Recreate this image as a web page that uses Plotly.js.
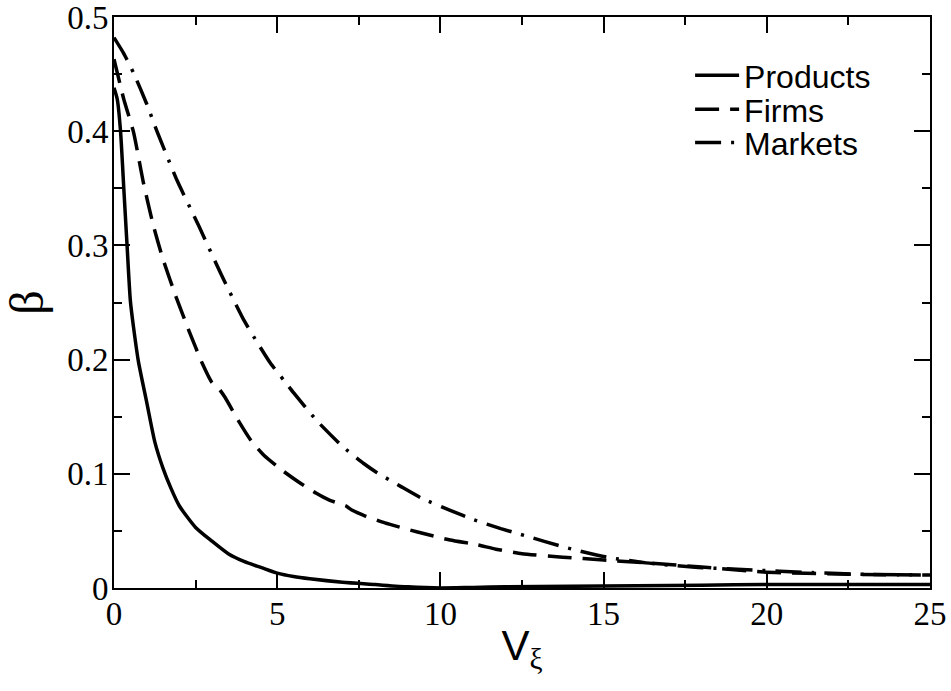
<!DOCTYPE html>
<html>
<head>
<meta charset="utf-8">
<script src="https://cdn.plot.ly/plotly-3.0.1.min.js"></script>
<style>html,body{margin:0;padding:0;background:#fff;}#chart{width:951px;height:691px;}</style>
</head>
<body>
<div id="chart"></div>
<script>
// Products (solid)
var productsX = [0,0.1,0.2,0.3,0.4,0.5,0.6,0.75,1,1.25,1.5,1.75,2,2.5,3,3.5,4,4.5,5,5.5,6,7,8,9,10,11,12,14,16,18,20,22,25];
var productsY = [0.438,0.428,0.400,0.350,0.300,0.252,0.228,0.198,0.163,0.128,0.105,0.087,0.072,0.053,0.041,0.030,0.023,0.018,0.013,0.010,0.008,0.005,0.003,0.001,0.0,0.0005,0.001,0.0015,0.002,0.0025,0.003,0.003,0.003];
// Firms (dashed)
var firmsX = [0,0.3,0.6,0.9,1.2,1.5,1.9,2.3,2.7,3.0,3.2,3.4,3.8,4.2,4.6,5.2,5.7,6.2,6.6,6.9,7.1,7.3,7.7,8.3,9.3,10.3,11.1,11.7,12.5,13.75,15,16.3,17.9,19.9,22.5,25];
var firmsY = [0.463,0.428,0.399,0.355,0.318,0.288,0.255,0.225,0.197,0.180,0.175,0.167,0.147,0.129,0.116,0.102,0.092,0.083,0.077,0.074,0.072,0.068,0.063,0.057,0.049,0.042,0.038,0.034,0.030,0.027,0.0245,0.022,0.0186,0.014,0.012,0.0114];
// Markets (dash-dot)
var marketsX = [0,0.3,0.6,1.0,1.33,1.93,2.6,3.26,3.97,4.39,4.79,5.2,5.5,6.23,7.0,7.65,8.06,8.78,9.4,10.3,11.0,11.85,12.45,13.9,15.1,16.3,17.9,19.4,21.4,23,25];
var marketsY = [0.482,0.468,0.451,0.424,0.399,0.357,0.317,0.276,0.235,0.215,0.197,0.182,0.171,0.146,0.124,0.109,0.101,0.089,0.079,0.068,0.060,0.052,0.047,0.035,0.027,0.022,0.018,0.016,0.0135,0.012,0.0114];

var seriesNames = ['Products','Firms','Markets'];
var xTickVals = [0,5,10,15,20,25];
var xMinorVals = [2.5,7.5,12.5,17.5,22.5];
var yTickVals = [0,0.1,0.2,0.3,0.4,0.5];
var yTickText = ['0','0.1','0.2','0.3','0.4','0.5'];
var yMinorVals = [0.05,0.15,0.25,0.35,0.45];

var traces = [
  {x: productsX, y: productsY, name: seriesNames[0], mode: 'lines', legend: 'legend',
   line: {color: '#000', width: 3.5, shape: 'spline', smoothing: 0.6}},
  {x: firmsX, y: firmsY, name: seriesNames[1], mode: 'lines', legend: 'legend2',
   line: {color: '#000', width: 3.5, dash: '24px,11px', shape: 'spline', smoothing: 0.5}},
  {x: marketsX, y: marketsY, name: seriesNames[2], mode: 'lines', legend: 'legend3',
   line: {color: '#000', width: 3.5, dash: '26px,10px,3px,10px', shape: 'spline', smoothing: 0.5}},
  // empty trace that only activates the minor-tick overlay axes
  {x: [], y: [], xaxis: 'x2', yaxis: 'y2', mode: 'lines', showlegend: false, hoverinfo: 'skip'}
];

var tickFont = {family: 'Liberation Serif, Times New Roman, serif', size: 33, color: '#000'};
var legFont = {family: 'Liberation Sans, Arial, sans-serif', size: 32, color: '#000'};
function leg(y) {
  return {x: 0.706, y: y, xanchor: 'left', yanchor: 'middle', bgcolor: 'rgba(0,0,0,0)',
          borderwidth: 0, font: legFont, itemwidth: 44, tracegroupgap: 0};
}
var RANGE_X = [0, 25];
var RANGE_Y = [0, 0.5];

var layout = {
  width: 951, height: 691,
  margin: {l: 114, r: 21, t: 17, b: 103, pad: 0},
  paper_bgcolor: '#fff', plot_bgcolor: '#fff',
  showlegend: true,
  legend: leg(0.8975),
  legend2: leg(0.838),
  legend3: leg(0.780),
  xaxis: {
    range: RANGE_X, tickvals: xTickVals, ticktext: xTickVals.map(String),
    showline: true, linewidth: 2, linecolor: '#000', mirror: 'ticks',
    ticks: 'inside', ticklen: 16, tickwidth: 2, tickcolor: '#000',
    ticklabeloverflow: 'allow', ticklabelstandoff: -5,
    showgrid: false, zeroline: false, tickfont: tickFont,
    title: {text: 'V<sub><span style="font-family:Liberation Serif">ξ</span></sub>',
            font: {family: 'Liberation Sans, Arial, sans-serif', size: 42, color: '#000'}, standoff: 0}
  },
  yaxis: {
    range: RANGE_Y, tickvals: yTickVals, ticktext: yTickText,
    showline: true, linewidth: 2, linecolor: '#000', mirror: 'ticks',
    ticks: 'inside', ticklen: 16, tickwidth: 2, tickcolor: '#000',
    ticklabeloverflow: 'allow', ticklabelstandoff: -3,
    showgrid: false, zeroline: false, tickfont: tickFont,
    title: {text: 'β', font: {family: 'Liberation Serif, Times New Roman, serif', size: 48, color: '#000'}, standoff: 10}
  },
  xaxis2: {
    overlaying: 'x', side: 'bottom', anchor: 'y2', range: RANGE_X, tickvals: xMinorVals,
    showticklabels: false, ticks: 'inside', ticklen: 8, tickwidth: 2, tickcolor: '#000',
    showline: true, linewidth: 2, linecolor: '#000', mirror: 'ticks', showgrid: false, zeroline: false
  },
  yaxis2: {
    overlaying: 'y', side: 'left', anchor: 'x2', range: RANGE_Y, tickvals: yMinorVals,
    showticklabels: false, ticks: 'inside', ticklen: 8, tickwidth: 2, tickcolor: '#000',
    showline: true, linewidth: 2, linecolor: '#000', mirror: 'ticks', showgrid: false, zeroline: false
  }
};

Plotly.newPlot('chart', traces, layout, {staticPlot: true, displayModeBar: false});
</script>
</body>
</html>
